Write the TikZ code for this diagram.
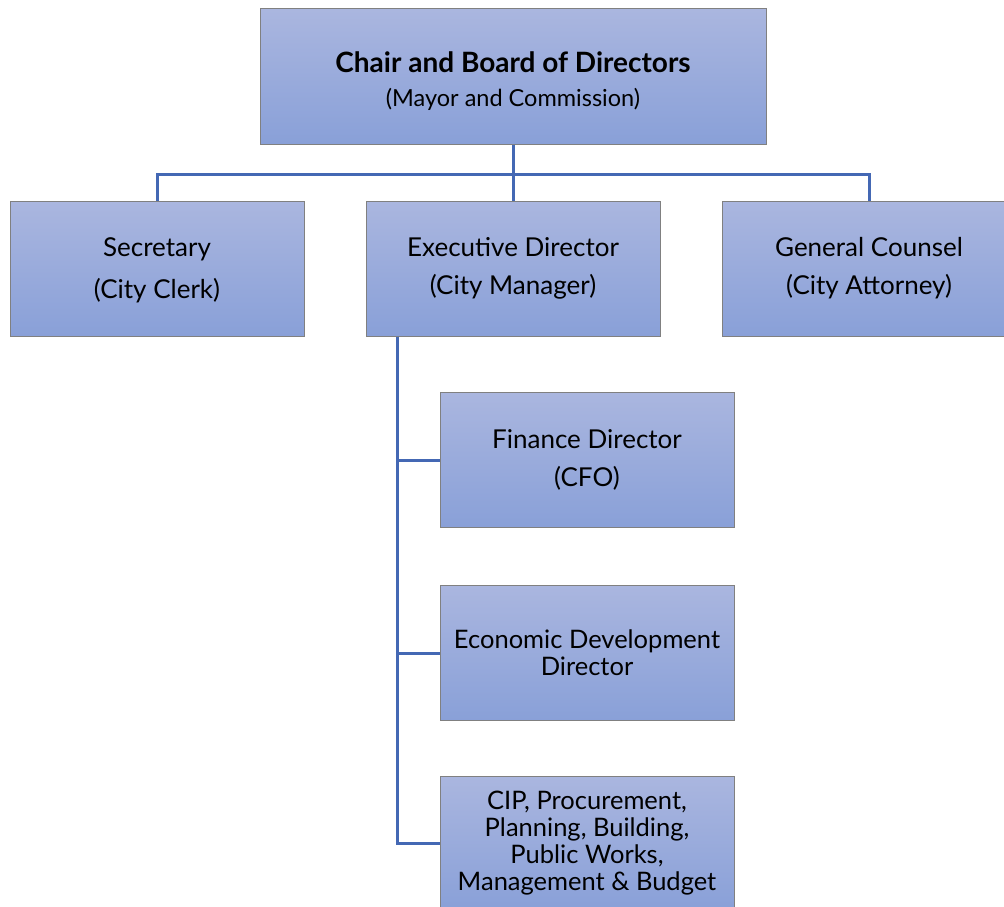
\documentclass[tikz,border=0pt]{standalone}
\usepackage{fontspec}
\setmainfont{Lato}
\usetikzlibrary{calc}
\definecolor{boxtop}{RGB}{170,182,223}
\definecolor{boxbot}{RGB}{137,160,216}
\definecolor{boxline}{RGB}{128,128,128}
\definecolor{connblue}{RGB}{68,104,180}
\tikzset{
  orgbox/.style={rectangle, draw=boxline, line width=1pt, top color=boxtop, bottom color=boxbot,
    minimum width=294pt, minimum height=135pt, inner sep=0pt, align=center, text=black,
    font=\fontsize{26}{38}\selectfont},
  conn/.style={draw=connblue, line width=3pt}
}
\begin{document}
\begin{tikzpicture}[x=1pt,y=-1pt]
\useasboundingbox (0,0) rectangle (1004,907);
\clip (0,0) rectangle (1004,907);
\node[orgbox, minimum width=506pt] (top) at (513,76.5) {};
\node[align=center, inner sep=0pt, font=\fontsize{28}{34}\selectfont] (toptext) at (513,81)
  {\textbf{Chair and Board of Directors}\\{\fontsize{23.5}{34}\selectfont (Mayor and Commission)}};
\node[orgbox, font=\fontsize{26}{42}\selectfont] (sec) at (157,268.5) {};
\node[align=center, inner sep=0pt, font=\fontsize{26}{42}\selectfont] (sectext) at (157,270.5) {Secretary\\(City Clerk)};
\node[orgbox] (exec) at (513,268.5) {Executive Director\\(City Manager)};
\node[orgbox] (gc) at (869,268.5) {General Counsel\\(City Attorney)};
\node[orgbox] (fin) at (587,460) {Finance Director\\(CFO)};
\node[orgbox, font=\fontsize{25.5}{27}\selectfont] (econ) at (587,653) {Economic Development\\Director};
\node[orgbox, font=\fontsize{25.5}{27}\selectfont] (cip) at (587,843.5)
  {CIP, Procurement,\\Planning, Building,\\Public Works,\\Management \& Budget};
\coordinate (mid) at ($(top.south)!0.53!(exec.north)$);
\draw[conn] (top.south) -- (mid) -| (sec.north);
\draw[conn] (mid) -| (gc.north);
\draw[conn] (mid) -- (exec.north);
\coordinate (trunk) at ([xshift=32pt]exec.south west);
\draw[conn] (trunk) |- (fin.west);
\draw[conn] (trunk) |- (econ.west);
\draw[conn] (trunk) |- (cip.west);
\end{tikzpicture}
\end{document}
